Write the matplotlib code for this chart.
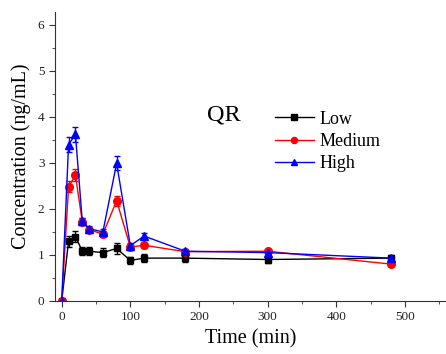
import matplotlib.pyplot as plt
from matplotlib.ticker import MultipleLocator
from matplotlib.lines import Line2D

plt.rcParams['font.family'] = ['Liberation Serif', 'DejaVu Serif']

# Données
time = [0, 10, 20, 30, 40, 60, 80, 100, 120, 180, 300, 480]
low = [0, 1.30, 1.40, 1.08, 1.08, 1.05, 1.14, 0.88, 0.93, 0.93, 0.90, 0.93]
low_err = [0.03, 0.12, 0.13, 0.09, 0.09, 0.09, 0.11, 0.07, 0.08, 0.08, 0.08, 0.07]
medium = [0, 2.48, 2.73, 1.72, 1.55, 1.45, 2.18, 1.17, 1.21, 1.07, 1.08, 0.80]
medium_err = [0.03, 0.12, 0.13, 0.08, 0.06, 0.06, 0.11, 0.06, 0.05, 0.05, 0.05, 0.05]
high = [0, 3.40, 3.62, 1.73, 1.57, 1.50, 2.99, 1.20, 1.41, 1.08, 1.05, 0.93]
high_err = [0.03, 0.16, 0.17, 0.08, 0.06, 0.06, 0.15, 0.06, 0.06, 0.05, 0.05, 0.05]

fig = plt.figure(figsize=(4.46, 3.54), dpi=100)
ax = fig.add_axes([0.123, 0.150, 0.877, 0.816])

series = [(low, low_err, 'black', 's', 5, 'Low'),
          (medium, medium_err, 'red', 'o', 5.5, 'Medium'),
          (high, high_err, 'blue', '^', 6, 'High')]
handles = []
for y, err, c, m, ms, lab in series:
    ax.errorbar(time, y, yerr=err, color=c, marker=m, markersize=ms,
                linewidth=1, capsize=2.5, elinewidth=1)
    handles.append(Line2D([], [], color=c, marker=m, markersize=ms * 0.8,
                          linewidth=1, label=lab))

ax.set_xlim(-10, 560)
ax.set_ylim(0, 6.28)
ax.xaxis.set_major_locator(MultipleLocator(100))
ax.xaxis.set_minor_locator(MultipleLocator(50))
ax.yaxis.set_major_locator(MultipleLocator(1))
ax.yaxis.set_minor_locator(MultipleLocator(0.5))
ax.spines['top'].set_visible(False)
ax.spines['right'].set_visible(False)
for s in ['left', 'bottom']:
    ax.spines[s].set_color('#333333')
ax.tick_params(which='both', direction='out', labelsize=9.5, colors='#333333',
               labelcolor='#222222')
ax.tick_params(which='major', length=4)
ax.tick_params(which='minor', length=2.5)

ax.set_xlabel('Time (min)', fontsize=14.5, labelpad=4)
ax.set_ylabel('Concentration (ng/mL)', fontsize=14.5, labelpad=5)
ax.text(212, 3.93, 'QR', fontsize=17.5)

ax.legend(handles=handles, loc='upper left', bbox_to_anchor=(0.52, 0.715),
          frameon=False, fontsize=13, handlelength=2.2, labelspacing=0.3,
          handletextpad=0.3)

fig.savefig('out.png', dpi=100)
